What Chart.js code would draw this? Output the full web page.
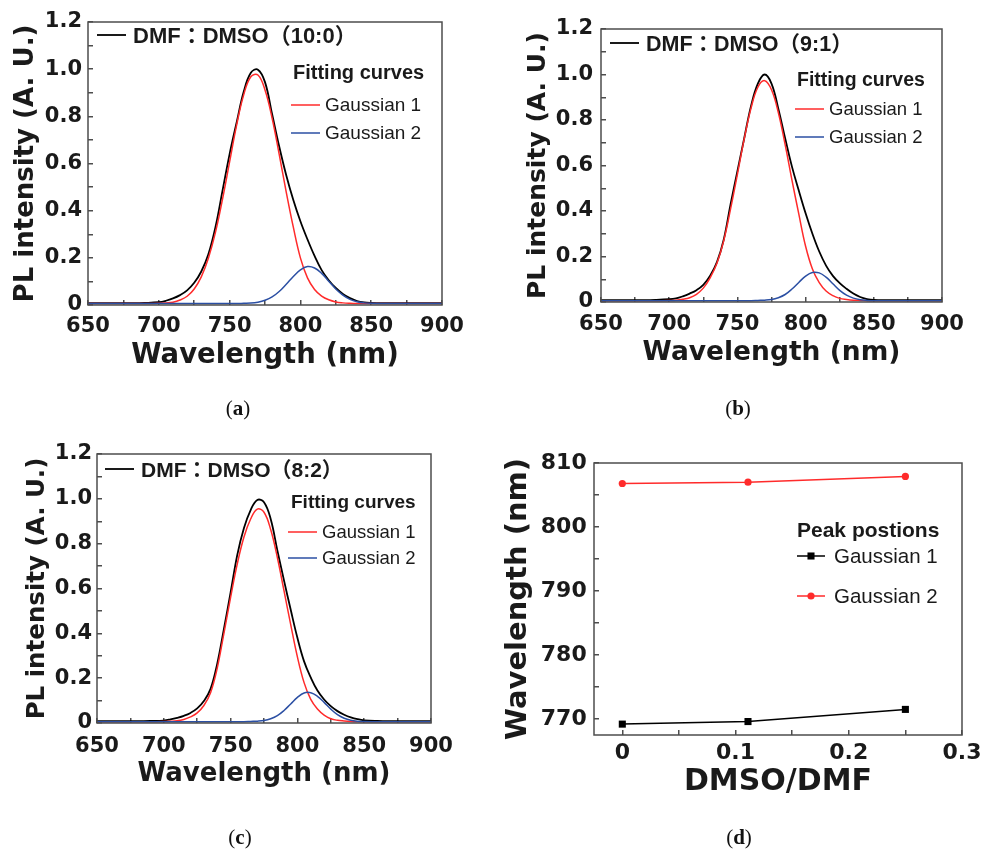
<!DOCTYPE html>
<html>
<head>
<meta charset="utf-8">
<script src="https://cdn.jsdelivr.net/npm/chart.js@4.4.1/dist/chart.umd.min.js"></script>
<style>
  body { margin: 0; background: #fff; }
  #page { position: relative; width: 982px; height: 853px; overflow: hidden; background: #fff; }
  canvas { position: absolute; }
  .cap { position: absolute; width: 60px; margin-left: -30px; text-align: center;
         font: 21px/21px "Liberation Serif", serif; color: #111; }
</style>
</head>
<body>
<div id="page">
  <canvas id="chart-a" width="490" height="400" style="left:0;top:0"></canvas>
  <canvas id="chart-b" width="492" height="400" style="left:490px;top:0"></canvas>
  <canvas id="chart-c" width="490" height="413" style="left:0;top:420px"></canvas>
  <canvas id="chart-d" width="492" height="413" style="left:490px;top:420px"></canvas>
  <div class="cap" style="left:238px;top:398px">(<b>a</b>)</div>
  <div class="cap" style="left:738px;top:398px">(<b>b</b>)</div>
  <div class="cap" style="left:240px;top:827px">(<b>c</b>)</div>
  <div class="cap" style="left:739px;top:827px">(<b>d</b>)</div>
</div>
<script>
// ---------------------------------------- | Data

// wavelength grid (nm) shared by the three spectra
const wavelengths = [650, 660, 670, 680, 690, 700, 705, 710, 715, 720, 725, 730, 735, 740, 745, 750, 755, 760, 765, 770,
  775, 780, 785, 790, 795, 800, 805, 810, 815, 820, 825, 830, 835, 840, 845, 850, 860, 870, 880, 890, 900]

// (a) DMF:DMSO 10:0
const spectrumA = [0.008, 0.008, 0.008, 0.008, 0.009, 0.012, 0.018, 0.028, 0.042, 0.062, 0.094, 0.142, 0.215, 0.330, 0.485, 0.640, 0.775, 0.905, 0.985, 0.998,
  0.945, 0.810, 0.673, 0.550, 0.445, 0.355, 0.278, 0.208, 0.148, 0.105, 0.072, 0.047, 0.029, 0.017, 0.011, 0.009, 0.008, 0.008, 0.008, 0.008, 0.008]
const gauss1A = [0.006, 0.006, 0.006, 0.006, 0.006, 0.007, 0.009, 0.012, 0.021, 0.037, 0.068, 0.119, 0.198, 0.308, 0.449, 0.607, 0.764, 0.892, 0.968, 0.975,
  0.912, 0.793, 0.640, 0.479, 0.330, 0.200, 0.115, 0.066, 0.038, 0.022, 0.013, 0.009, 0.007, 0.006, 0.006, 0.006, 0.006, 0.006, 0.006, 0.006, 0.006]
const gauss2A = [0.006, 0.006, 0.006, 0.006, 0.006, 0.006, 0.006, 0.006, 0.006, 0.006, 0.006, 0.006, 0.006, 0.006, 0.006, 0.006, 0.006, 0.007, 0.008, 0.012,
  0.020, 0.034, 0.057, 0.088, 0.121, 0.149, 0.163, 0.157, 0.134, 0.101, 0.068, 0.042, 0.024, 0.014, 0.009, 0.007, 0.006, 0.006, 0.006, 0.006, 0.006]

// (b) DMF:DMSO 9:1
const spectrumB = [0.008, 0.008, 0.008, 0.008, 0.009, 0.012, 0.016, 0.025, 0.037, 0.052, 0.075, 0.115, 0.175, 0.275, 0.430, 0.575, 0.720, 0.862, 0.960, 1.000,
  0.960, 0.850, 0.720, 0.595, 0.490, 0.390, 0.300, 0.222, 0.160, 0.115, 0.083, 0.058, 0.037, 0.022, 0.013, 0.009, 0.008, 0.008, 0.008, 0.008, 0.008]
const gauss1B = [0.006, 0.006, 0.006, 0.006, 0.006, 0.007, 0.008, 0.012, 0.019, 0.034, 0.061, 0.106, 0.170, 0.270, 0.409, 0.561, 0.717, 0.852, 0.944, 0.973,
  0.933, 0.833, 0.692, 0.536, 0.387, 0.245, 0.145, 0.085, 0.048, 0.028, 0.016, 0.011, 0.008, 0.007, 0.006, 0.006, 0.006, 0.006, 0.006, 0.006, 0.006]
const gauss2B = [0.006, 0.006, 0.006, 0.006, 0.006, 0.006, 0.006, 0.006, 0.006, 0.006, 0.006, 0.006, 0.006, 0.006, 0.006, 0.006, 0.006, 0.006, 0.007, 0.008,
  0.011, 0.019, 0.033, 0.057, 0.086, 0.114, 0.130, 0.128, 0.109, 0.080, 0.051, 0.030, 0.017, 0.010, 0.007, 0.006, 0.006, 0.006, 0.006, 0.006, 0.006]

// (c) DMF:DMSO 8:2
const spectrumC = [0.008, 0.008, 0.008, 0.008, 0.009, 0.011, 0.016, 0.023, 0.032, 0.045, 0.065, 0.098, 0.152, 0.265, 0.420, 0.582, 0.750, 0.870, 0.950, 0.995,
  0.985, 0.910, 0.770, 0.635, 0.505, 0.380, 0.275, 0.203, 0.145, 0.105, 0.075, 0.053, 0.037, 0.025, 0.017, 0.012, 0.009, 0.008, 0.008, 0.008, 0.008]
const gauss1C = [0.006, 0.006, 0.006, 0.006, 0.006, 0.007, 0.008, 0.010, 0.016, 0.027, 0.045, 0.078, 0.135, 0.245, 0.400, 0.560, 0.710, 0.830, 0.910, 0.954,
  0.940, 0.863, 0.738, 0.589, 0.439, 0.295, 0.180, 0.105, 0.062, 0.035, 0.019, 0.012, 0.009, 0.007, 0.006, 0.006, 0.006, 0.006, 0.006, 0.006, 0.006]
const gauss2C = [0.006, 0.006, 0.006, 0.006, 0.006, 0.006, 0.006, 0.006, 0.006, 0.006, 0.006, 0.006, 0.006, 0.006, 0.006, 0.006, 0.006, 0.006, 0.007, 0.008,
  0.011, 0.019, 0.033, 0.056, 0.085, 0.114, 0.134, 0.135, 0.119, 0.092, 0.062, 0.037, 0.021, 0.012, 0.008, 0.007, 0.006, 0.006, 0.006, 0.006, 0.006]

// (d) fitted peak positions against solvent ratio
const solventRatio = [0, 0.111, 0.25]
const peakGauss1 = [769.2, 769.6, 771.5]
const peakGauss2 = [806.8, 807.0, 807.9]

// ---------------------------------------- | Helpers

const ink = "#1a1a1a"
const frameColor = "#4d4d4d"
const red = "#ff2b2b"
const blue = "#2b4fa3"

const points = (xs, ys) => xs.map((x, i) => ({ x, y: ys[i] }))
const boldFont = size => ({ family: "DejaVu Sans", size, weight: "bold" })

// frame round the plot area plus the in-plot key
function panelKey(items) {
  return {
    id: "panelKey",
    afterDatasetsDraw(chart) {
      const { ctx, chartArea: a } = chart
      ctx.save()
      ctx.strokeStyle = frameColor
      ctx.lineWidth = 1.5
      ctx.strokeRect(a.left, a.top, a.width, a.height)
      ctx.textAlign = "left"
      ctx.textBaseline = "alphabetic"
      items.forEach(item => {
        ctx.fillStyle = ink
        ctx.font = item.font
        if (item.dataset === undefined) {
          ctx.fillText(item.text, a.left + item.tx, a.top + item.ty)
          return
        }
        const ds = chart.data.datasets[item.dataset]
        const y = a.top + item.y
        ctx.strokeStyle = ds.borderColor
        ctx.lineWidth = ds.borderWidth
        ctx.beginPath()
        ctx.moveTo(a.left + item.x1, y)
        ctx.lineTo(a.left + item.x2, y)
        ctx.stroke()
        if (ds.pointRadius) {
          const cx = a.left + (item.x1 + item.x2) / 2
          ctx.fillStyle = ds.backgroundColor
          ctx.beginPath()
          if (ds.pointStyle === "rect") {
            const h = ds.pointRadius * Math.SQRT1_2
            ctx.rect(cx - h, y - h, 2 * h, 2 * h)
          } else {
            ctx.arc(cx, y, ds.pointRadius, 0, Math.PI * 2)
          }
          ctx.fill()
        }
        ctx.fillStyle = ink
        ctx.fillText(ds.label, a.left + item.tx, a.top + item.ty)
      })
      ctx.restore()
    }
  }
}

// fixed axis sizes so the plot box lands where it should; label overflow is already inside the layout padding
const fixHeight = h => s => { s.height = h; s.paddingLeft = 0; s.paddingRight = 0 }
const fixWidth = w => s => { s.width = w; s.paddingTop = 0; s.paddingBottom = 0 }

function axisBase(size) {
  return {
    type: "linear",
    border: { display: false },
    grid: { drawOnChartArea: false, tickLength: -5, color: frameColor, lineWidth: 1.5 },
    ticks: { color: ink, font: boldFont(size), autoSkip: false, maxRotation: 0 }
  }
}

function spectrumChart(id, series, label, f) {
  const x = axisBase(21)
  Object.assign(x, { min: 650, max: 900, afterFit: fixHeight(f.xh) })
  x.ticks = { ...x.ticks, stepSize: 25, padding: f.xPad, callback: v => (v % 50 === 0 ? String(v) : "") }
  x.title = { display: true, text: "Wavelength (nm)", color: ink, font: boldFont(f.xTitle), padding: 0 }

  const y = axisBase(21)
  Object.assign(y, { min: 0, max: 1.2, afterFit: fixWidth(f.yw) })
  y.ticks = {
    ...y.ticks, stepSize: 0.1, padding: f.yPad,
    callback: v => {
      const k = Math.round(v * 10)
      return k % 2 ? "" : k === 0 ? "0" : (k / 10).toFixed(1)
    }
  }
  y.title = { display: true, text: "PL intensity (A. U.)", color: ink, font: boldFont(f.yTitle), padding: { top: f.yTitlePad, bottom: 0 } }

  const line = (data, color, width, order, name) => ({
    label: name, data: points(wavelengths, data), borderColor: color, borderWidth: width,
    pointRadius: 0, tension: 0.4, order
  })

  return new Chart(document.getElementById(id).getContext("2d"), {
    type: "line",
    data: {
      datasets: [
        line(series[0], "#000", 1.8, 2, label),
        line(series[1], red, 1.5, 1, "Gaussian 1"),
        line(series[2], blue, 1.5, 0, "Gaussian 2")
      ]
    },
    options: {
      responsive: false,
      animation: false,
      layout: { padding: { left: 0, top: f.top, right: f.right, bottom: f.bottom } },
      plugins: { legend: { display: false }, tooltip: { enabled: false } },
      scales: { x, y }
    },
    plugins: [panelKey(f.key)]
  })
}

function spectrumKey(k) {
  return [
    { dataset: 0, x1: k.bx, x2: k.bx + 29, y: k.by, tx: k.bx + 36, ty: k.by + 8, font: `bold ${k.big}px "Liberation Sans", "Noto Sans CJK TC"` },
    { text: "Fitting curves", tx: k.hx, ty: k.hy, font: `bold ${k.head}px "Liberation Sans"` },
    { dataset: 1, x1: k.lx, x2: k.lx + 29, y: k.g1, tx: k.lx + 34, ty: k.g1 + 6, font: `${k.small}px "Liberation Sans"` },
    { dataset: 2, x1: k.lx, x2: k.lx + 29, y: k.g2, tx: k.lx + 34, ty: k.g2 + 6, font: `${k.small}px "Liberation Sans"` }
  ]
}

// ---------------------------------------- | Spectra

spectrumChart("chart-a", [spectrumA, gauss1A, gauss2A], "DMF：DMSO（10:0）", {
  top: 22, right: 48, bottom: 28, yw: 88, xh: 67,
  xPad: 14, yPad: 11, yTitlePad: 10.4, xTitle: 27.5, yTitle: 26,
  key: spectrumKey({ bx: 9, by: 13, big: 22, hx: 205, hy: 57, head: 20, lx: 203, g1: 83, g2: 111, small: 19 })
})

spectrumChart("chart-b", [spectrumB, gauss1B, gauss2B], "DMF：DMSO（9:1）", {
  top: 29, right: 40, bottom: 31, yw: 111, xh: 67,
  xPad: 15.4, yPad: 13, yTitlePad: 33, xTitle: 26.5, yTitle: 25,
  key: spectrumKey({ bx: 9, by: 14, big: 21.5, hx: 196, hy: 57, head: 19.5, lx: 194, g1: 80, g2: 108, small: 18.5 })
})

spectrumChart("chart-c", [spectrumC, gauss1C, gauss2C], "DMF：DMSO（8:2）", {
  top: 34, right: 59, bottom: 43, yw: 97, xh: 67,
  xPad: 16.4, yPad: 10, yTitlePad: 23, xTitle: 26, yTitle: 24.5,
  key: spectrumKey({ bx: 8, by: 15, big: 21, hx: 194, hy: 54, head: 19, lx: 191, g1: 78, g2: 104, small: 18.5 })
})

// ---------------------------------------- | Peak positions

const peakX = axisBase(22)
Object.assign(peakX, { min: -0.025, max: 0.3, afterFit: fixHeight(65) })
peakX.ticks = {
  ...peakX.ticks, stepSize: 0.05, includeBounds: false, padding: 9.8,
  callback: v => {
    const k = Math.round(v * 20)
    return k % 2 ? "" : k === 0 ? "0" : (k / 20).toFixed(1)
  }
}
peakX.title = { display: true, text: "DMSO/DMF", color: ink, font: boldFont(30), padding: 0 }

const peakY = axisBase(22)
Object.assign(peakY, { min: 767.5, max: 810, afterFit: fixWidth(104) })
peakY.ticks = { ...peakY.ticks, stepSize: 5, includeBounds: false, padding: 12.3, callback: v => (v % 10 === 0 ? String(v) : "") }
peakY.title = { display: true, text: "Wavelength (nm)", color: ink, font: boldFont(29), padding: { top: 11, bottom: 0 } }

new Chart(document.getElementById("chart-d").getContext("2d"), {
  type: "line",
  data: {
    datasets: [
      {
        label: "Gaussian 1", data: points(solventRatio, peakGauss1),
        borderColor: "#000", backgroundColor: "#000", borderWidth: 1.5,
        pointStyle: "rect", pointRadius: 5, pointBorderWidth: 0, tension: 0
      },
      {
        label: "Gaussian 2", data: points(solventRatio, peakGauss2),
        borderColor: red, backgroundColor: red, borderWidth: 1.5,
        pointStyle: "circle", pointRadius: 3.6, pointBorderWidth: 0, tension: 0
      }
    ]
  },
  options: {
    responsive: false,
    animation: false,
    layout: { padding: { left: 0, top: 43, right: 20, bottom: 33 } },
    plugins: { legend: { display: false }, tooltip: { enabled: false } },
    scales: { x: peakX, y: peakY }
  },
  plugins: [panelKey([
    { text: "Peak postions", tx: 203, ty: 74, font: 'bold 21px "Liberation Sans"' },
    { dataset: 0, x1: 203, x2: 231, y: 93, tx: 240, ty: 100, font: '20.5px "Liberation Sans"' },
    { dataset: 1, x1: 203, x2: 231, y: 133, tx: 240, ty: 140, font: '20.5px "Liberation Sans"' }
  ])]
})
</script>
</body>
</html>
